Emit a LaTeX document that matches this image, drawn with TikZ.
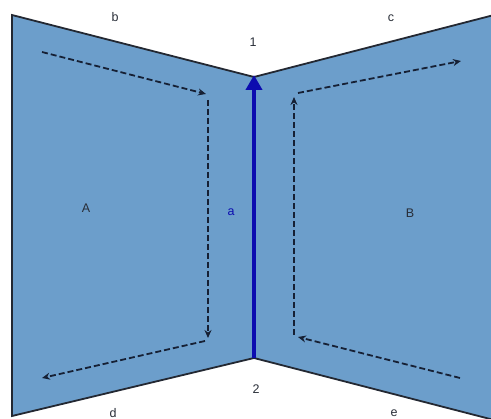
\documentclass[tikz,border=0pt]{standalone}
\usepackage{fontspec}
\setmainfont{Liberation Sans}
\usetikzlibrary{arrows.meta}
\definecolor{panel}{RGB}{108,158,203}
\definecolor{edge}{RGB}{35,40,50}
\definecolor{flow}{RGB}{22,32,52}
\definecolor{axis}{RGB}{12,12,175}
\definecolor{lbl}{RGB}{40,45,55}
\tikzset{
  panelshape/.style={fill=panel, draw=edge, line width=1.8pt, line join=miter},
  flowarrow/.style={draw=flow, line width=1.8pt, dash pattern=on 6pt off 3pt, -{Stealth[length=8pt,width=7pt]}},
  lab/.style={text=lbl, font=\fontsize{12.5}{14}\selectfont, inner sep=0pt},
}
\begin{document}
\begin{tikzpicture}[x=1pt,y=-1pt]
\useasboundingbox (0,0) rectangle (491,419);
% corners
\coordinate (TL) at (12,15);
\coordinate (T) at (254,77);
\coordinate (TR) at (494,15);
\coordinate (BL) at (12,416);
\coordinate (Bc) at (254,358);
\coordinate (BR) at (494,420);
\begin{scope}
\clip (0,0) rectangle (491,419);
\path[panelshape] (TL) -- (T) -- (Bc) -- (BL) -- cycle;
\path[panelshape] (T) -- (TR) -- (BR) -- (Bc) -- cycle;
\end{scope}
% axis arrow
\draw[draw=axis, line width=4.5pt, -{Triangle[length=15pt,width=16pt]}] (Bc) -- ([yshift=2pt]T);
% flow points left
\coordinate (l1) at (42,52);
\coordinate (l2) at (206,94);
\coordinate (l3) at (208,100);
\coordinate (l4) at (208,338);
\coordinate (l5) at (205,341);
\coordinate (l6) at (42,378);
\draw[flowarrow] (l1) -- (l2);
\draw[flowarrow] (l3) -- (l4);
\draw[flowarrow] (l5) -- (l6);
% flow points right
\coordinate (r1) at (460,378);
\coordinate (r2) at (298,337);
\coordinate (r3) at (294,335);
\coordinate (r4) at (294,97);
\coordinate (r5) at (298,93);
\coordinate (r6) at (461,61);
\draw[flowarrow] (r1) -- (r2);
\draw[flowarrow] (r3) -- (r4);
\draw[flowarrow] (r5) -- (r6);
% labels
\node[lab] (b) at (115,17) {b};
\node[lab] (c) at (391,18) {c};
\node[lab] (n1) at (253,42) {1};
\node[lab] (n2) at (256,389) {2};
\node[lab] (d) at (113,413) {d};
\node[lab] (e) at (394,413) {e};
\node[lab] (A) at (86,208) {A};
\node[lab] (B) at (410,213) {B};
\node[lab, text=axis] (a) at (231,212) {a};
\end{tikzpicture}
\end{document}
